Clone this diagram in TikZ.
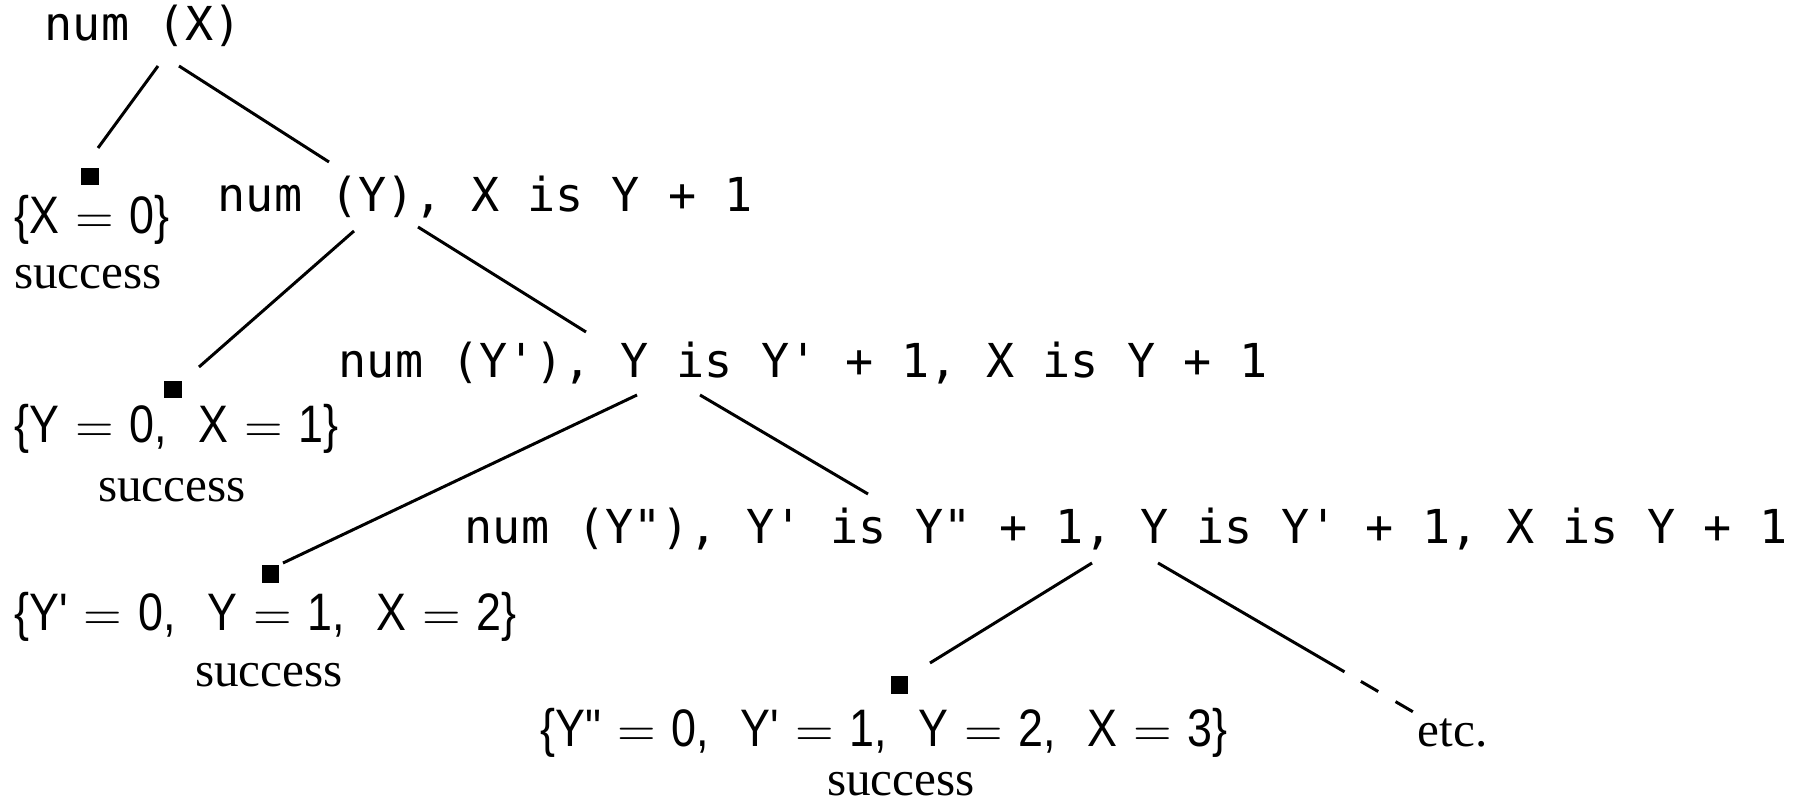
\documentclass[tikz,border=0pt]{standalone}
\usepackage{fontspec}
\setmonofont{DejaVu Sans Mono}
\newfontfamily\bindfont{Liberation Sans}[Ligatures=TeXOff, FakeStretch=0.85]
\newfontfamily\notefont{Liberation Serif}
\usetikzlibrary{calc}
\newcommand{\eqsign}{\hspace{4.5pt}$=$\hspace{4.5pt}}
\newcommand{\bindsep}{,\hspace{9pt}}
\tikzset{>=latex}
\tikzset{goal/.style={anchor=west, inner sep=0pt, text height=0.75em, text depth=0.2em,
    font=\fontsize{13.3}{16}\selectfont\ttfamily},
  binding/.style={anchor=west, inner sep=0pt, text height=0.75em, text depth=0.25em,
    font=\fontsize{15}{18}\selectfont\bindfont},
  note/.style={inner sep=0pt, font=\fontsize{14}{17}\selectfont\notefont},
  leaf/.style={fill=black, inner sep=0pt, minimum size=0.17cm},
  branch/.style={line width=0.85pt}}
\begin{document}
\begin{tikzpicture}[x=0.01cm, y=-0.01cm]
            \useasboundingbox (0,0) rectangle (1810,801);
            % goals
            \node[goal] (numX) at (44,31) {num (X)};
            \node[goal] (numY) at (217,202) {num (Y), X is Y + 1};
            \node[goal] (numYp) at (338,368) {num (Y'), Y is Y' + 1, X is Y + 1};
            \node[goal] (numYpp) at (464,534) {num (Y"), Y' is Y" + 1, Y is Y' + 1, X is Y + 1};
            % successful leaves
            \node[leaf] (sq0) at (90,177) {};
            \node[leaf] (sq1) at (173,390) {};
            \node[leaf] (sq2) at (270,574) {};
            \node[leaf] (sq3) at (899,685) {};
            \node[binding] (set0) at (14,225) {\{X\eqsign 0\}};
            \node[binding] (set1) at (14,434) {\{Y\eqsign 0\bindsep X\eqsign 1\}};
            \node[binding] (set2) at (14,622) {\{Y'\eqsign 0\bindsep Y\eqsign 1\bindsep X\eqsign 2\}};
            \node[binding] (set3) at (540,738) {\{Y"\eqsign 0\bindsep Y'\eqsign 1\bindsep Y\eqsign 2\bindsep X\eqsign 3\}};
            \node[note] (ok0) at (88,277) {success};
            \node[note] (ok1) at (172,490) {success};
            \node[note] (ok2) at (269,675) {success};
            \node[note] (ok3) at (901,784) {success};
            \node[note, anchor=west] (etc) at (1417,733) {etc.};
            % branches
            \draw[branch] ($(numX.west)+(114,35)$) -- ($(sq0)+(8,-29)$);
            \draw[branch] ($(numX.west)+(135,35)$) -- ($(numY.west)+(112,-40)$);
            \draw[branch] ($(numY.west)+(137,29)$) -- ($(sq1)+(26,-23)$);
            \draw[branch] ($(numY.west)+(201,25)$) -- ($(numYp.west)+(248,-36)$);
            \draw[branch] ($(numYp.west)+(299,27)$) -- ($(sq2)+(13,-11)$);
            \draw[branch] ($(numYp.west)+(362,27)$) -- ($(numYpp.west)+(404,-40)$);
            \draw[branch] ($(numYpp.west)+(628,29)$) -- ($(sq3)+(31,-22)$);
            \draw[branch, dash pattern={on 61.4pt off 5.4pt on 5.7pt off 5.7pt on 5.7pt off 20pt}]
              ($(numYpp.west)+(694,29)$) -- ($(etc.west)+(-2,-20)$);
        \end{tikzpicture}
\end{document}
